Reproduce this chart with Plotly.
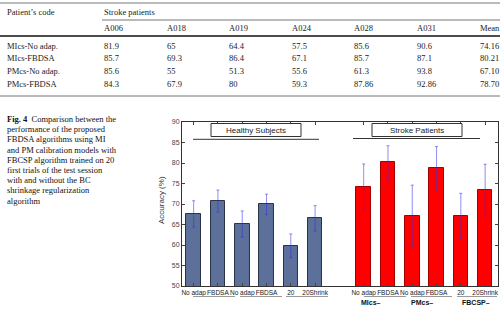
import plotly.graph_objects as go

# ---------------- data ----------------
table_cols = ["A006", "A018", "A019", "A024", "A028", "A031", "Mean"]
table_rows = ["MIcs-No adap.", "MIcs-FBDSA", "PMcs-No adap.", "PMcs-FBDSA"]
table_vals = [
    ["81.9", "65", "64.4", "57.5", "85.6", "90.6", "74.16"],
    ["85.7", "69.3", "86.4", "67.1", "85.7", "87.1", "80.21"],
    ["85.6", "55", "51.3", "55.6", "61.3", "93.8", "67.10"],
    ["84.3", "67.9", "80", "59.3", "87.86", "92.86", "78.70"],
]

bar_labels = ["No adap", "FBDSA", "No adap", "FBDSA", "20", "20Shrink"]
healthy_vals = [67.6, 70.7, 65.1, 69.9, 59.8, 66.5]
healthy_err = [3.2, 2.7, 3.2, 2.5, 2.9, 3.1]
stroke_vals = [74.16, 80.21, 67.10, 78.70, 67.1, 73.4]
stroke_err = [5.6, 4.0, 7.5, 5.3, 5.5, 6.3]
group_labels = ["MIcs\u2013", "PMcs\u2013", "FBCSP\u2013"]

caption = [
    "<b>Fig. 4</b>  Comparison between the",
    "performance of the proposed",
    "FBDSA algorithms using MI",
    "and PM calibration models with",
    "FBCSP algorithm trained on 20",
    "first trials of the test session",
    "with and without the BC",
    "shrinkage regularization",
    "algorithm",
]

# ---------------- geometry helpers ----------------
W, H = 500, 312
L, R, T, B = 182, 498, 122, 286  # plot area in pixels


def px(x):
    return (x - L) / (R - L)


def py(y):
    return (B - y) / (B - T)


hx = [1, 2, 3, 4, 5, 6]
sx = [8, 9, 10, 11, 12, 13]

fig = go.Figure()
errcol = "rgba(50,50,235,0.55)"
fig.add_trace(go.Bar(
    x=hx, y=healthy_vals, width=0.6,
    marker=dict(color="#5d7099", line=dict(color="#2a3347", width=1)),
    error_y=dict(type="data", array=healthy_err, color=errcol, thickness=1, width=1.5),
    showlegend=False,
))
fig.add_trace(go.Bar(
    x=sx, y=stroke_vals, width=0.6,
    marker=dict(color="#ff0000", line=dict(color="#a00000", width=1)),
    error_y=dict(type="data", array=stroke_err, color=errcol, thickness=1, width=1.5),
    showlegend=False,
))

fig.update_layout(
    width=W, height=H,
    margin=dict(l=L, r=W - R, t=T, b=H - B, pad=0),
    paper_bgcolor="white", plot_bgcolor="white",
    font=dict(family="Liberation Sans", size=7, color="#333"),
    bargap=0,
)
fig.update_xaxes(
    range=[0.52, 13.53], tickvals=hx + sx, ticktext=bar_labels + bar_labels,
    tickangle=0,
    ticks="inside", ticklen=3, tickcolor="#444", mirror="allticks",
    showline=True, linecolor="#333", linewidth=1, showgrid=False, zeroline=False,
    tickfont=dict(size=6.5, color="#222"),
)
fig.update_yaxes(
    range=[50, 90], tickvals=[50, 55, 60, 65, 70, 75, 80, 85, 90],
    ticks="inside", ticklen=3, tickcolor="#444", mirror="allticks",
    showline=True, linecolor="#333", linewidth=1, showgrid=False, zeroline=False,
    tickfont=dict(size=7, color="#444"),
)

ann = []
shapes = []

# y-axis title
ann.append(dict(x=px(161), y=py(200), xref="paper", yref="paper", text="Accuracy (%)",
                textangle=-90, showarrow=False, font=dict(size=8, color="#333"),
                xanchor="center", yanchor="middle"))

# boxes with titles
for (x0, x1, lx0, lx1, ly, txt) in [(211, 301, 193, 319, 139.3, "Healthy Subjects"),
                                     (372, 462, 353, 480, 138.5, "Stroke Patients")]:
    shapes.append(dict(type="rect", xref="paper", yref="paper", x0=px(x0), x1=px(x1),
                       y0=py(136.5), y1=py(123.5), line=dict(color="#333", width=1),
                       fillcolor="white"))
    shapes.append(dict(type="line", xref="paper", yref="paper", x0=px(lx0), x1=px(lx1),
                       y0=py(ly), y1=py(ly), line=dict(color="#333", width=1)))
    ann.append(dict(x=px((x0 + x1) / 2), y=py(130), xref="paper", yref="paper", text=txt,
                    showarrow=False, font=dict(size=8, color="#222"),
                    xanchor="center", yanchor="middle"))

# underlines below tick labels
for (a, b) in [(193, 235), (240, 282), (286, 328), (364, 406), (411, 452), (457, 497)]:
    shapes.append(dict(type="line", xref="paper", yref="paper", x0=px(a), x1=px(b),
                       y0=py(296.5), y1=py(296.5), line=dict(color="#999", width=1)))
for (cx, g) in zip([371, 422, 476], group_labels):
    ann.append(dict(x=px(cx), y=py(302.5), xref="paper", yref="paper", text="<b>" + g + "</b>",
                    showarrow=False, font=dict(size=7, color="#111"),
                    xanchor="center", yanchor="middle"))

# caption
serif = "Liberation Serif"
for i, line in enumerate(caption):
    ann.append(dict(x=px(5), y=py(119 + i * 10.2), xref="paper", yref="paper", text=line,
                    showarrow=False, font=dict(family=serif, size=8.5, color="#111"),
                    xanchor="left", yanchor="middle"))

# table
col_x = [102, 165, 227, 290, 352, 415, 478]
row_y = [46, 58.3, 70.7, 84]
tfont = dict(family=serif, size=8.5, color="#222")
ann.append(dict(x=px(5), y=py(12), xref="paper", yref="paper", text="Patient\u2019s code",
                showarrow=False, font=tfont, xanchor="left", yanchor="middle"))
ann.append(dict(x=px(102), y=py(12), xref="paper", yref="paper", text="Stroke patients",
                showarrow=False, font=tfont, xanchor="left", yanchor="middle"))
for cx, c in zip(col_x, table_cols):
    ann.append(dict(x=px(cx), y=py(28.3), xref="paper", yref="paper", text=c,
                    showarrow=False, font=tfont, xanchor="left", yanchor="middle"))
for ry, rname, vals in zip(row_y, table_rows, table_vals):
    ann.append(dict(x=px(5), y=py(ry), xref="paper", yref="paper", text=rname,
                    showarrow=False, font=tfont, xanchor="left", yanchor="middle"))
    for cx, v in zip(col_x, vals):
        ann.append(dict(x=px(cx), y=py(ry), xref="paper", yref="paper", text=v,
                        showarrow=False, font=tfont, xanchor="left", yanchor="middle"))
for (x0, y, w, c) in [(0, 3, 1, "#777"), (102, 20, 1, "#777"), (0, 36, 1.6, "#111"), (0, 96, 1, "#777")]:
    shapes.append(dict(type="line", xref="paper", yref="paper", x0=px(x0), x1=px(500),
                       y0=py(y), y1=py(y), line=dict(color=c, width=w)))

fig.update_layout(annotations=ann, shapes=shapes)
fig.write_html("out.html")
